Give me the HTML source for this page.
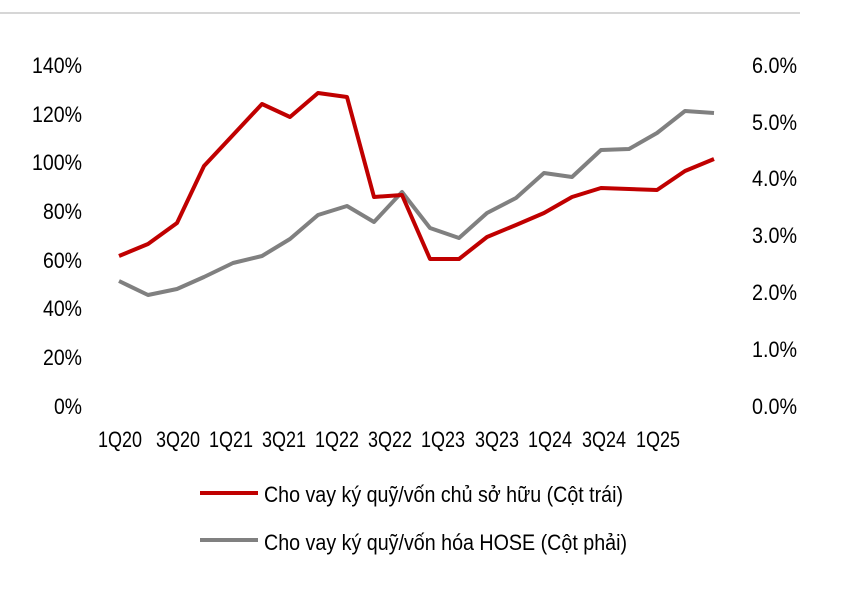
<!DOCTYPE html>
<html><head><meta charset="utf-8"><style>
html,body{margin:0;padding:0;background:#fff;}
svg text{font-family:"Liberation Sans Narrow","Liberation Sans",sans-serif;fill:#000;}
</style></head><body>
<svg width="841" height="584" viewBox="0 0 841 584" xmlns="http://www.w3.org/2000/svg">
<line x1="0" y1="13" x2="800" y2="13" stroke="#c8c8c8" stroke-width="1.5"/>
<g font-size="22" text-anchor="end" lengthAdjust="spacingAndGlyphs">
<text x="82" y="73" textLength="50" lengthAdjust="spacingAndGlyphs">140%</text>
<text x="82" y="122" textLength="50" lengthAdjust="spacingAndGlyphs">120%</text>
<text x="82" y="170" textLength="50" lengthAdjust="spacingAndGlyphs">100%</text>
<text x="82" y="219" textLength="39" lengthAdjust="spacingAndGlyphs">80%</text>
<text x="82" y="268" textLength="39" lengthAdjust="spacingAndGlyphs">60%</text>
<text x="82" y="316" textLength="39" lengthAdjust="spacingAndGlyphs">40%</text>
<text x="82" y="365" textLength="39" lengthAdjust="spacingAndGlyphs">20%</text>
<text x="82" y="414" textLength="28" lengthAdjust="spacingAndGlyphs">0%</text>
<text x="797" y="73" textLength="45" lengthAdjust="spacingAndGlyphs">6.0%</text>
<text x="797" y="130" textLength="45" lengthAdjust="spacingAndGlyphs">5.0%</text>
<text x="797" y="186" textLength="45" lengthAdjust="spacingAndGlyphs">4.0%</text>
<text x="797" y="243" textLength="45" lengthAdjust="spacingAndGlyphs">3.0%</text>
<text x="797" y="300" textLength="45" lengthAdjust="spacingAndGlyphs">2.0%</text>
<text x="797" y="357" textLength="45" lengthAdjust="spacingAndGlyphs">1.0%</text>
<text x="797" y="414" textLength="45" lengthAdjust="spacingAndGlyphs">0.0%</text>
</g>
<g font-size="22" text-anchor="middle">
<text x="120" y="447" textLength="44" lengthAdjust="spacingAndGlyphs">1Q20</text>
<text x="178" y="447" textLength="44" lengthAdjust="spacingAndGlyphs">3Q20</text>
<text x="231" y="447" textLength="44" lengthAdjust="spacingAndGlyphs">1Q21</text>
<text x="284" y="447" textLength="44" lengthAdjust="spacingAndGlyphs">3Q21</text>
<text x="337" y="447" textLength="44" lengthAdjust="spacingAndGlyphs">1Q22</text>
<text x="390" y="447" textLength="44" lengthAdjust="spacingAndGlyphs">3Q22</text>
<text x="443" y="447" textLength="44" lengthAdjust="spacingAndGlyphs">1Q23</text>
<text x="497" y="447" textLength="44" lengthAdjust="spacingAndGlyphs">3Q23</text>
<text x="550" y="447" textLength="44" lengthAdjust="spacingAndGlyphs">1Q24</text>
<text x="604" y="447" textLength="44" lengthAdjust="spacingAndGlyphs">3Q24</text>
<text x="658" y="447" textLength="44" lengthAdjust="spacingAndGlyphs">1Q25</text>
</g>
<polyline fill="none" stroke="#808080" stroke-width="4" stroke-linejoin="round" points="119,281 148,295 177,289 204,277 233,263 262,256 290,239 318,215 347,206 374,222 402,192 430,228 459,238 487,213 516,198 544,173 572,177 601,150 629,149 657,133 685,111 714,113"/>
<polyline fill="none" stroke="#c00000" stroke-width="4" stroke-linejoin="round" points="119,256 148,244 177,223 204,166 233,135 262,104 290,117 318,93 347,97 374,197 402,195 430,259 459,259 487,237 516,225 544,213 572,197 601,188 629,189 657,190 685,171 714,159"/>
<line x1="200" y1="493" x2="258" y2="493" stroke="#c00000" stroke-width="4"/>
<line x1="200" y1="540" x2="258" y2="540" stroke="#808080" stroke-width="4"/>
<text x="264" y="502" font-size="22" textLength="359" lengthAdjust="spacingAndGlyphs">Cho vay ký quỹ/vốn chủ sở hữu (Cột trái)</text>
<text x="264" y="550" font-size="22" textLength="363" lengthAdjust="spacingAndGlyphs">Cho vay ký quỹ/vốn hóa HOSE (Cột phải)</text>
</svg>
</body></html>
